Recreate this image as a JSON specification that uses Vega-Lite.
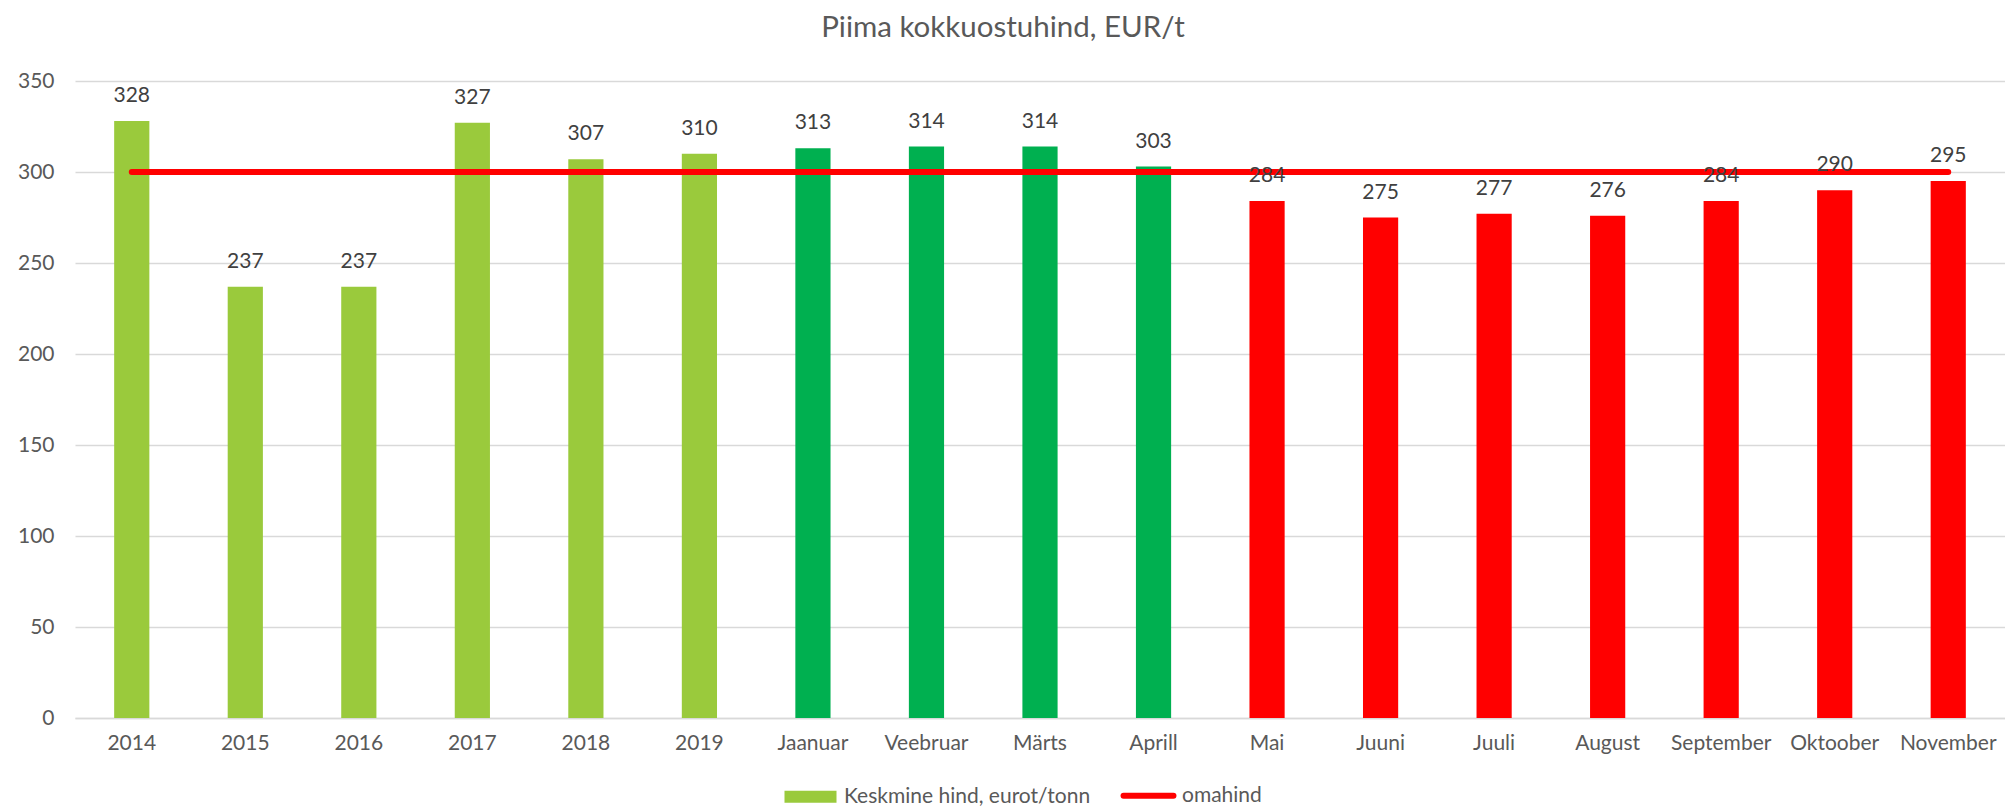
{
  "$schema": "https://vega.github.io/schema/vega-lite/v6.json",
  "width": 1930,
  "height": 637,
  "autosize": {"type": "none"},
  "padding": {"left": 75, "top": 81, "right": 0, "bottom": 88},
  "background": "white",
  "config": {"view": {"stroke": null}, "font": "Lato"},
  "title": {"text": "Piima kokkuostuhind, EUR/t", "fontSize": 29.5, "font": "Lato", "fontWeight": "normal", "color": "#595959", "anchor": "middle", "dx": -37, "offset": 27},
  "data": {"values": [
    {"periood": "2014", "hind": 328, "grupp": "Keskmine hind, eurot/tonn", "omahind": 300},
    {"periood": "2015", "hind": 237, "grupp": "Keskmine hind, eurot/tonn", "omahind": 300},
    {"periood": "2016", "hind": 237, "grupp": "Keskmine hind, eurot/tonn", "omahind": 300},
    {"periood": "2017", "hind": 327, "grupp": "Keskmine hind, eurot/tonn", "omahind": 300},
    {"periood": "2018", "hind": 307, "grupp": "Keskmine hind, eurot/tonn", "omahind": 300},
    {"periood": "2019", "hind": 310, "grupp": "Keskmine hind, eurot/tonn", "omahind": 300},
    {"periood": "Jaanuar", "hind": 313, "grupp": "Jaanuar–Aprill", "omahind": 300},
    {"periood": "Veebruar", "hind": 314, "grupp": "Jaanuar–Aprill", "omahind": 300},
    {"periood": "Märts", "hind": 314, "grupp": "Jaanuar–Aprill", "omahind": 300},
    {"periood": "Aprill", "hind": 303, "grupp": "Jaanuar–Aprill", "omahind": 300},
    {"periood": "Mai", "hind": 284, "grupp": "Mai–November", "omahind": 300},
    {"periood": "Juuni", "hind": 275, "grupp": "Mai–November", "omahind": 300},
    {"periood": "Juuli", "hind": 277, "grupp": "Mai–November", "omahind": 300},
    {"periood": "August", "hind": 276, "grupp": "Mai–November", "omahind": 300},
    {"periood": "September", "hind": 284, "grupp": "Mai–November", "omahind": 300},
    {"periood": "Oktoober", "hind": 290, "grupp": "Mai–November", "omahind": 300},
    {"periood": "November", "hind": 295, "grupp": "Mai–November", "omahind": 300}
  ]},
  "encoding": {
    "x": {
      "field": "periood", "type": "nominal", "sort": null,
      "scale": {"paddingInner": 0.69, "paddingOuter": 0.345},
      "axis": {"title": null, "labelAngle": 0, "labelFontSize": 21, "labelColor": "#595959", "ticks": false, "domainColor": "#D9D9D9", "domainWidth": 1.5, "labelPadding": 14, "grid": false}
    }
  },
  "layer": [
    {
      "mark": {"type": "bar"},
      "encoding": {
        "y": {"field": "hind", "type": "quantitative", "scale": {"domain": [0, 350], "nice": false},
          "axis": {"title": null, "domain": false, "ticks": false, "values": [0, 50, 100, 150, 200, 250, 300, 350], "gridColor": "#D9D9D9", "gridWidth": 1.3, "labelFontSize": 21, "labelColor": "#595959", "labelPadding": 21}},
        "color": {
          "field": "grupp", "type": "nominal",
          "scale": {"domain": ["Keskmine hind, eurot/tonn", "omahind", "Jaanuar–Aprill", "Mai–November"], "range": ["#9ACA3C", "#FF0000", "#00B050", "#FF0000"]},
          "legend": {
            "values": ["Keskmine hind, eurot/tonn", "omahind"],
            "title": null, "orient": "none", "legendX": 725, "legendY": 704, "direction": "horizontal", "padding": 0,
            "labelFontSize": 21, "labelColor": "#595959", "labelOffset": 23, "labelLimit": 400,
            "symbolSize": 2704, "columnPadding": 20,
            "encode": {"symbols": {"update": {
              "shape": {"signal": "datum.value === 'omahind' ? 'M-0.96,0H0.96' : 'M-1,-0.23H1V0.23H-1Z'"},
              "fill": {"signal": "datum.value === 'omahind' ? 'transparent' : '#9ACA3C'"},
              "stroke": {"signal": "datum.value === 'omahind' ? '#FF0000' : 'transparent'"},
              "strokeWidth": {"signal": "datum.value === 'omahind' ? 6 : 0"},
              "strokeCap": {"value": "round"},
              "opacity": {"value": 1}
            }}}
          }
        }
      }
    },
    {
      "mark": {"type": "line", "strokeWidth": 6, "strokeCap": "round"},
      "encoding": {
        "y": {"field": "omahind", "type": "quantitative"},
        "color": {"datum": "omahind"}
      }
    },
    {
      "mark": {"type": "text", "dy": -25, "baseline": "middle", "fontSize": 21, "color": "#404040"},
      "encoding": {
        "y": {"field": "hind", "type": "quantitative"},
        "text": {"field": "hind", "type": "quantitative"}
      }
    }
  ]
}
